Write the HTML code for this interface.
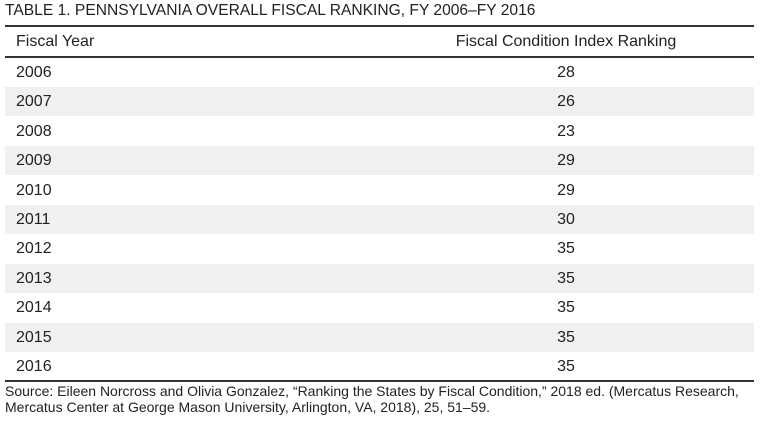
<!DOCTYPE html>
<html><head><meta charset="utf-8"><style>
body{margin:0;width:768px;height:430px;background:#fff;position:relative;overflow:hidden;font-family:"Liberation Sans",sans-serif;color:#222}
.t{position:absolute;left:5px;top:2px;font-size:15.6px;white-space:nowrap}
.line{position:absolute;left:5px;width:749px;height:2px;background:#333}
.row{position:absolute;left:5px;width:749px;height:29px;font-size:16px;line-height:29px}
.row.s{background:#f0f0f0}
.row .a{position:absolute;left:11px}
.row .b{position:absolute;left:435px;width:252px;text-align:center}
.src{position:absolute;left:5px;top:383px;font-size:14px;line-height:16px;white-space:nowrap}
</style></head><body>
<div class="t">TABLE 1. PENNSYLVANIA OVERALL FISCAL RANKING, FY 2006–FY 2016</div>
<div class="line" style="top:25px"></div>
<div class="row" style="top:27px"><span class="a">Fiscal Year</span><span class="b">Fiscal Condition Index Ranking</span></div>
<div class="line" style="top:56px"></div>
<div class="row" style="top:58px"><span class="a">2006</span><span class="b">28</span></div>
<div class="row s" style="top:87.4px"><span class="a">2007</span><span class="b">26</span></div>
<div class="row" style="top:116.8px"><span class="a">2008</span><span class="b">23</span></div>
<div class="row s" style="top:146.2px"><span class="a">2009</span><span class="b">29</span></div>
<div class="row" style="top:175.6px"><span class="a">2010</span><span class="b">29</span></div>
<div class="row s" style="top:205px"><span class="a">2011</span><span class="b">30</span></div>
<div class="row" style="top:234.4px"><span class="a">2012</span><span class="b">35</span></div>
<div class="row s" style="top:263.8px"><span class="a">2013</span><span class="b">35</span></div>
<div class="row" style="top:293.2px"><span class="a">2014</span><span class="b">35</span></div>
<div class="row s" style="top:322.6px"><span class="a">2015</span><span class="b">35</span></div>
<div class="row" style="top:352px"><span class="a">2016</span><span class="b">35</span></div>
<div class="line" style="top:380px"></div>
<div class="src">Source: Eileen Norcross and Olivia Gonzalez, “Ranking the States by Fiscal Condition,” 2018 ed. (Mercatus Research,<br>Mercatus Center at George Mason University, Arlington, VA, 2018), 25, 51–59.</div>
</body></html>
